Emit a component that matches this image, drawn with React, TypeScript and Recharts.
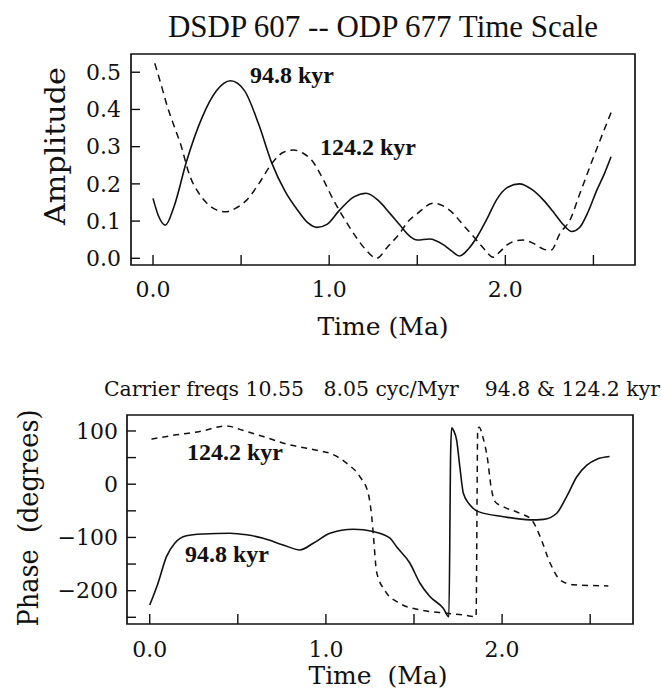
import React from 'react';
import { LineChart, Line, XAxis, YAxis, ReferenceArea } from 'recharts';

// Amplitude of the 94.8 kyr band (solid line)
const ampTime948 = [0.0, 0.03, 0.07, 0.12, 0.19, 0.28, 0.36, 0.44, 0.52, 0.6, 0.675, 0.75, 0.82, 0.88, 0.93, 0.99, 1.06, 1.14, 1.21, 1.28, 1.346, 1.4, 1.46, 1.5, 1.57, 1.65, 1.7, 1.74, 1.79, 1.84, 1.9, 1.95, 2.01, 2.08, 2.15, 2.215, 2.28, 2.33, 2.377, 2.42, 2.47, 2.52, 2.56, 2.6];
const amp948 = [0.161, 0.115, 0.089, 0.14, 0.26, 0.38, 0.45, 0.477, 0.45, 0.36, 0.255, 0.18, 0.13, 0.095, 0.083, 0.092, 0.13, 0.165, 0.175, 0.155, 0.12, 0.09, 0.058, 0.049, 0.052, 0.036, 0.018, 0.006, 0.025, 0.058, 0.11, 0.157, 0.19, 0.2, 0.185, 0.157, 0.12, 0.09, 0.072, 0.082, 0.125, 0.184, 0.225, 0.273];

// Amplitude of the 124.2 kyr band (dashed line)
const ampTime1242 = [0.01, 0.05, 0.08, 0.12, 0.155, 0.21, 0.26, 0.306, 0.36, 0.41, 0.47, 0.533, 0.6, 0.675, 0.74, 0.797, 0.85, 0.9, 0.968, 1.01, 1.062, 1.11, 1.157, 1.21, 1.27, 1.33, 1.4, 1.45, 1.5, 1.59, 1.65, 1.705, 1.76, 1.82, 1.88, 1.93, 1.97, 2.01, 2.06, 2.1, 2.16, 2.22, 2.26, 2.31, 2.367, 2.42, 2.48, 2.54, 2.61];
const amp1242 = [0.524, 0.46, 0.41, 0.355, 0.309, 0.22, 0.175, 0.148, 0.13, 0.125, 0.135, 0.157, 0.2, 0.255, 0.285, 0.291, 0.283, 0.264, 0.21, 0.17, 0.125, 0.088, 0.054, 0.022, 0.0, 0.03, 0.067, 0.1, 0.12, 0.148, 0.14, 0.12, 0.09, 0.058, 0.025, 0.003, 0.018, 0.036, 0.047, 0.049, 0.04, 0.024, 0.022, 0.067, 0.103, 0.17, 0.246, 0.32, 0.403];

// Phase of the 94.8 kyr band (solid line)
const phaseTime948 = [0.0, 0.047, 0.095, 0.142, 0.208, 0.303, 0.455, 0.55, 0.644, 0.757, 0.852, 0.928, 1.023, 1.156, 1.269, 1.364, 1.4, 1.477, 1.534, 1.59, 1.666, 1.698, 1.708, 1.714, 1.726, 1.742, 1.76, 1.78, 1.818, 1.866, 2.008, 2.159, 2.235, 2.31, 2.367, 2.424, 2.481, 2.538, 2.61];
const phase948 = [-227, -186, -136, -111, -97, -93.5, -92, -95, -101.5, -114, -123.5, -111, -92, -84.6, -89, -101.5, -117, -148.5, -186, -211, -233, -249, 60, 106, 100, 83, 33, -17, -39, -51.5, -61, -67, -66, -54.5, -23, 14, 36, 47, 52];

// Phase of the 124.2 kyr band (dashed line)
const phaseTime1242 = [0.01, 0.15, 0.284, 0.436, 0.511, 0.644, 0.795, 0.89, 0.96, 1.023, 1.117, 1.193, 1.24, 1.26, 1.27, 1.288, 1.335, 1.42, 1.534, 1.686, 1.78, 1.852, 1.862, 1.87, 1.89, 1.918, 1.937, 1.96, 2.006, 2.1, 2.168, 2.216, 2.273, 2.33, 2.405, 2.603];
const phase1242 = [84.6, 92.7, 99, 109.6, 103, 89.5, 74, 67.7, 63, 58, 39.5, 14, -17, -61, -98.5, -165, -200, -224, -236, -242.5, -245.7, -249, 105, 107, 89.5, 45.7, -4.5, -32.7, -42, -54.5, -67, -98.5, -148.5, -180, -189, -191];

const timeTicks = [0, 0.5, 1, 1.5, 2, 2.5];
const timeLabels = [0, 1, 2];
const ampTicks = [0, 0.1, 0.2, 0.3, 0.4, 0.5];
const phaseTicks = [-250, -200, -150, -100, -50, 0, 50, 100];
const phaseLabels = [-200, -100, 0, 100];

const toPoints = (ts: number[], vs: number[]) => ts.map((t, i) => ({ t, v: vs[i] }));

const serif = 'DejaVu Serif';
const times = 'Liberation Serif';
const ink = '#111';

const tickStyle = { fontFamily: serif, fontSize: 22, fill: ink };
const tickLine = { stroke: ink, strokeWidth: 1.4 };

const fmtTime = (v: number) => (timeLabels.includes(v) ? v.toFixed(1) : '');
const fmtPhase = (v: number) =>
  phaseLabels.includes(v) ? (v < 0 ? '\u2212' + Math.abs(v) : String(v)) : '';

const ampX: [number, number] = [-0.125, 2.736];
const ampY: [number, number] = [-0.018, 0.549];
const phX: [number, number] = [-0.129, 2.743];
const phY: [number, number] = [-262.6, 130];

function AmplitudeChart() {
  return (
    <LineChart width={662} height={350} margin={{ top: 54, right: 27, bottom: 0, left: 0 }}>
      <XAxis
        dataKey="t"
        type="number"
        domain={ampX}
        allowDataOverflow
        ticks={timeTicks}
        interval={0}
        tickFormatter={fmtTime}
        tickSize={-10}
        tickMargin={26}
        height={85}
        axisLine={false}
        tickLine={tickLine}
        tick={tickStyle}
      />
      <YAxis
        type="number"
        domain={ampY}
        allowDataOverflow
        ticks={ampTicks}
        interval={0}
        tickFormatter={(v: number) => v.toFixed(1)}
        tickSize={-9}
        tickMargin={19}
        width={131}
        axisLine={false}
        tickLine={tickLine}
        tick={tickStyle}
      />
      <ReferenceArea x1={ampX[0]} x2={ampX[1]} y1={ampY[0]} y2={ampY[1]} fill="none" stroke={ink} strokeWidth={1.7} ifOverflow="visible" />
      <Line data={toPoints(ampTime1242, amp1242)} dataKey="v" type="monotone" stroke={ink} strokeWidth={1.5} strokeDasharray="7 5" dot={false} isAnimationActive={false} />
      <Line data={toPoints(ampTime948, amp948)} dataKey="v" type="monotone" stroke={ink} strokeWidth={1.6} dot={false} isAnimationActive={false} />
      <text x={383} y={37} textAnchor="middle" fontFamily={times} fontSize={31} fill={ink}>
        DSDP 607 -- ODP 677 Time Scale
      </text>
      <text x={65} y={146} transform="rotate(-90 65 146)" textAnchor="middle" fontFamily={serif} fontSize={27} fill={ink} textLength={158} lengthAdjust="spacingAndGlyphs">
        Amplitude
      </text>
      <text x={383} y={335} textAnchor="middle" fontFamily={serif} fontSize={25} fill={ink}>
        Time  (Ma)
      </text>
      <text x={250} y={83} fontFamily={times} fontWeight="bold" fontSize={24} fill={ink}>94.8 kyr</text>
      <text x={320} y={155} fontFamily={times} fontWeight="bold" fontSize={24} fill={ink}>124.2 kyr</text>
    </LineChart>
  );
}

function PhaseChart() {
  return (
    <LineChart width={662} height={346} margin={{ top: 65, right: 29, bottom: 0, left: 0 }}>
      <XAxis
        dataKey="t"
        type="number"
        domain={phX}
        allowDataOverflow
        ticks={timeTicks}
        interval={0}
        tickFormatter={fmtTime}
        tickSize={-10}
        tickMargin={27}
        height={72}
        axisLine={false}
        tickLine={tickLine}
        tick={tickStyle}
      />
      <YAxis
        type="number"
        domain={phY}
        allowDataOverflow
        ticks={phaseTicks}
        interval={0}
        tickFormatter={fmtPhase}
        tickSize={-9}
        tickMargin={18}
        width={127}
        axisLine={false}
        tickLine={tickLine}
        tick={tickStyle}
      />
      <ReferenceArea x1={phX[0]} x2={phX[1]} y1={phY[0]} y2={phY[1]} fill="none" stroke={ink} strokeWidth={1.7} ifOverflow="visible" />
      <Line data={toPoints(phaseTime1242, phase1242)} dataKey="v" type="monotone" stroke={ink} strokeWidth={1.5} strokeDasharray="6 5" dot={false} isAnimationActive={false} />
      <Line data={toPoints(phaseTime948, phase948)} dataKey="v" type="monotone" stroke={ink} strokeWidth={1.6} dot={false} isAnimationActive={false} />
      <text x={104} y={46} fontFamily={serif} fontSize={20} fill={ink} textLength={556} lengthAdjust="spacingAndGlyphs" xmlSpace="preserve">
        {'Carrier freqs 10.55   8.05 cyc/Myr    94.8 & 124.2 kyr'}
      </text>
      <text x={38} y={168} transform="rotate(-90 38 168)" textAnchor="middle" fontFamily={serif} fontSize={28} fill={ink} textLength={217} lengthAdjust="spacingAndGlyphs" xmlSpace="preserve">
        {'Phase  (degrees)'}
      </text>
      <text x={378} y={334} textAnchor="middle" fontFamily={serif} fontSize={25} fill={ink} xmlSpace="preserve">
        {'Time  (Ma)'}
      </text>
      <text x={187} y={110} fontFamily={times} fontWeight="bold" fontSize={24} fill={ink}>124.2 kyr</text>
      <text x={185} y={212} fontFamily={times} fontWeight="bold" fontSize={24} fill={ink}>94.8 kyr</text>
    </LineChart>
  );
}

export default function App() {
  return (
    <div style={{ position: 'absolute', left: 0, top: 0, width: 662, height: 696, background: '#fff' }}>
      <div style={{ position: 'absolute', left: 0, top: 0 }}>
        <AmplitudeChart />
      </div>
      <div style={{ position: 'absolute', left: 0, top: 350 }}>
        <PhaseChart />
      </div>
    </div>
  );
}
